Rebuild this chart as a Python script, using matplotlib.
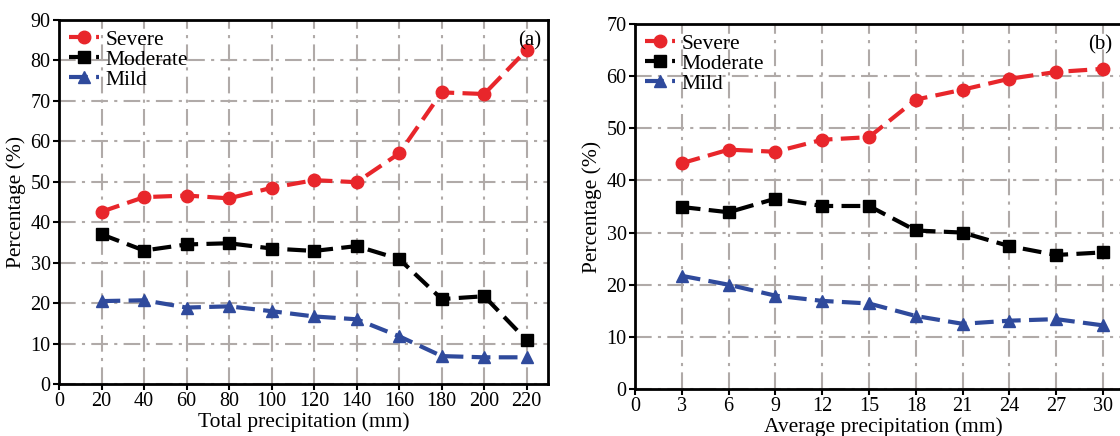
import numpy as np
import matplotlib
matplotlib.use("Agg")
import matplotlib.pyplot as plt

plt.rcParams['font.family'] = ['Liberation Serif', 'DejaVu Serif']
plt.rcParams['font.size'] = 14

# panel (a): total precipitation
total_x = [20, 40, 60, 80, 100, 120, 140, 160, 180, 200, 220]
total_severe = [42.6, 46.2, 46.6, 45.9, 48.5, 50.4, 49.9, 57.0, 72.1, 71.7, 82.6]
total_moderate = [37.0, 33.0, 34.5, 34.8, 33.5, 32.9, 34.1, 30.9, 21.0, 21.7, 10.8]
total_mild = [20.5, 20.7, 18.9, 19.2, 18.0, 16.7, 16.0, 11.8, 6.9, 6.6, 6.6]

# panel (b): average precipitation
avg_x = [3, 6, 9, 12, 15, 18, 21, 24, 27, 30]
avg_severe = [43.3, 45.9, 45.5, 47.8, 48.3, 55.5, 57.4, 59.5, 60.8, 61.4]
avg_moderate = [34.9, 33.9, 36.5, 35.1, 35.1, 30.4, 30.0, 27.4, 25.7, 26.2]
avg_mild = [21.7, 20.0, 17.9, 16.9, 16.4, 14.0, 12.5, 13.1, 13.4, 12.2]

W, H = 1120, 436
fig = plt.figure(figsize=(W / 100, H / 100), dpi=100)

def box(l, t, r, b):
    return [l / W, 1 - b / H, (r - l) / W, (b - t) / H]

ax1 = fig.add_axes(box(59, 20, 548, 384))
ax2 = fig.add_axes(box(635, 24, 1132, 389))

red = '#e8262b'
blue = '#2f4a9c'
grid_col = '#b0aaa8'
dash = (0, (4.5, 2.0))

def draw(ax, x, sev, mod, mil):
    ax.plot(x, sev, ls=dash, lw=3, color=red, marker='o', ms=9, label='Severe')
    ax.plot(x, mod, ls=dash, lw=3, color='black', marker='s', ms=8.5, label='Moderate')
    ax.plot(x, mil, ls=dash, lw=3, color=blue, marker='^', ms=9, label='Mild')
    ax.grid(True, color=grid_col, ls=(0, (8, 3, 1.5, 3)), lw=1.5)
    ax.set_axisbelow(True)
    for s in ax.spines.values():
        s.set_linewidth(2)
    ax.tick_params(direction='out', length=4, width=1.5, labelsize=14.5, pad=2)
    ax.set_ylabel('Percentage (%)', fontsize=15.5, labelpad=3)
    ax.legend(loc='upper left', frameon=False, handlelength=1.4, handletextpad=0.3,
              labelspacing=0.0, borderaxespad=0.3, borderpad=0.15,
              prop={'size': 15.5, 'stretch': 'expanded'})

draw(ax1, total_x, total_severe, total_moderate, total_mild)
ax1.set_xlim(0, 230)
ax1.set_ylim(0, 90)
ax1.set_xticks(np.arange(0, 221, 20))
ax1.set_yticks(np.arange(0, 91, 10))
ax1.set_xlabel('Total precipitation (mm)', fontsize=15.5, labelpad=1)
ax1.text(0.963, 0.97, '(a)', transform=ax1.transAxes, ha='center', va='top', fontsize=15)

draw(ax2, avg_x, avg_severe, avg_moderate, avg_mild)
ax2.set_xlim(0, (1132 - 635) / 15.6)
ax2.set_ylim(0, 70)
ax2.set_xticks(np.arange(0, 31, 3))
ax2.set_yticks(np.arange(0, 71, 10))
ax2.set_xlabel('Average precipitation (mm)', fontsize=15.5, labelpad=1)
ax2.text(29.8, 67.8, '(b)', ha='center', va='top', fontsize=15)

fig.savefig('out.png', dpi=100)
